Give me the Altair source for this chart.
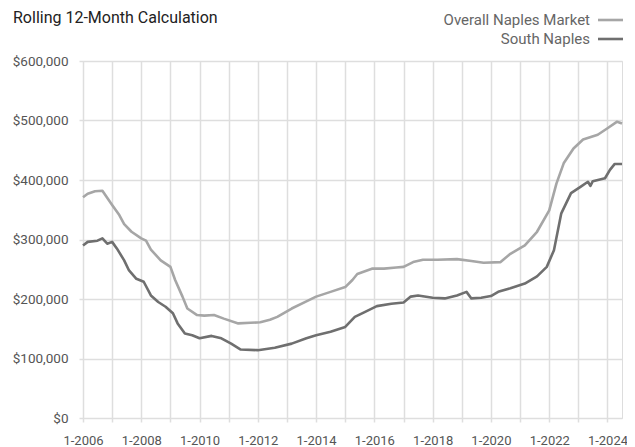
import altair as alt
import pandas as pd

FONT = "Roboto, sans-serif"

title_text = "Rolling 12-Month Calculation"
series_names = ["Overall Naples Market", "South Naples"]
series_colors = ["#a6a6a6", "#6f6f6f"]

overall_dates = [
    "2006-01", "2006-03", "2006-06", "2006-09", "2006-10", "2007-01", "2007-04", "2007-06",
    "2007-09", "2008-01", "2008-03", "2008-05", "2008-09", "2009-01", "2009-03", "2009-06",
    "2009-08", "2009-12", "2010-03", "2010-07", "2010-11", "2011-05", "2011-10", "2012-02",
    "2012-06", "2012-09", "2013-03", "2013-09", "2014-01", "2014-07", "2015-01", "2015-04",
    "2015-06", "2015-12", "2016-05", "2016-10", "2017-01", "2017-05", "2017-09", "2018-03",
    "2018-11", "2019-05", "2019-10", "2020-05", "2020-09", "2021-03", "2021-08", "2022-01",
    "2022-04", "2022-07", "2022-11", "2023-03", "2023-09", "2024-01", "2024-05", "2024-07",
]
overall_values = [
    371000, 377000, 381000, 382000, 376000, 358000, 341000, 326000,
    313000, 302000, 298000, 283000, 265000, 254000, 232000, 204000,
    184000, 173000, 172000, 173000, 167000, 159000, 160000, 161000,
    165000, 170000, 184000, 196000, 204000, 212000, 220000, 232000,
    242000, 251000, 251000, 253000, 254000, 262000, 266000, 266000,
    267000, 264000, 261000, 262000, 276000, 290000, 313000, 349000,
    394000, 428000, 453000, 468000, 476000, 487000, 498000, 495000,
]

south_dates = [
    "2006-01", "2006-03", "2006-07", "2006-09", "2006-11", "2007-01", "2007-03", "2007-06",
    "2007-08", "2007-11", "2008-02", "2008-05", "2008-08", "2008-11", "2009-02", "2009-04",
    "2009-07", "2009-10", "2010-01", "2010-06", "2010-10", "2011-02", "2011-06", "2012-01",
    "2012-08", "2013-03", "2013-09", "2014-01", "2014-07", "2015-01", "2015-05", "2015-09",
    "2016-02", "2016-08", "2017-01", "2017-04", "2017-07", "2018-01", "2018-06", "2018-11",
    "2019-03", "2019-05", "2019-09", "2020-01", "2020-04", "2020-09", "2021-03", "2021-08",
    "2021-12", "2022-03", "2022-06", "2022-10", "2023-02", "2023-05", "2023-06", "2023-07",
    "2023-12", "2024-02", "2024-04", "2024-07",
]
south_values = [
    290000, 296000, 298000, 302000, 293000, 296000, 285000, 265000,
    248000, 234000, 229000, 206000, 195000, 187000, 176000, 159000,
    142000, 139000, 134000, 138000, 134000, 125000, 115000, 114000,
    118000, 125000, 134000, 139000, 145000, 153000, 170000, 178000,
    188000, 192000, 194000, 204000, 206000, 202000, 201000, 206000,
    212000, 201000, 202000, 205000, 212000, 218000, 226000, 238000,
    254000, 282000, 344000, 378000, 389000, 397000, 390000, 398000,
    403000, 417000, 427000, 427000,
]

y_ticks = [0, 100000, 200000, 300000, 400000, 500000, 600000]
x_years = list(range(2006, 2025))

df = pd.concat([
    pd.DataFrame({"date": [d + "-01" for d in overall_dates], "value": overall_values,
                  "series": series_names[0]}),
    pd.DataFrame({"date": [d + "-01" for d in south_dates], "value": south_values,
                  "series": series_names[1]}),
], ignore_index=True)

GRID = "#dedede"

x_enc = alt.X(
    "date:T",
    scale=alt.Scale(type="utc",
                    domain=[alt.DateTime(year=2006, month=1, date=1, utc=True),
                            alt.DateTime(year=2024, month=7, date=1, utc=True)]),
    axis=alt.Axis(
        title=None,
        values=[alt.DateTime(year=y, month=1, date=1, utc=True) for y in x_years],
        labelExpr="utcFormat(datum.value, '%Y') % 2 == 0 ? '1-' + utcFormat(datum.value, '%Y') : ''",
        grid=True, gridColor=GRID, gridWidth=1.5,
        ticks=True, tickColor=GRID, tickSize=4, tickWidth=1.5,
        domain=False,
        labelFont=FONT, labelFontSize=13, labelColor="#555555", labelPadding=12,
        labelFlush=False, labelOverlap=False,
    ),
)
y_enc = alt.Y(
    "value:Q",
    scale=alt.Scale(domain=[0, 600000], nice=False),
    axis=alt.Axis(
        title=None, values=y_ticks, format="$,.0f",
        grid=True, gridColor=GRID, gridWidth=1.5,
        ticks=True, tickColor=GRID, tickSize=4, tickWidth=1.5,
        domain=False,
        labelFont=FONT, labelFontSize=13.5, labelColor="#555555", labelPadding=11,
    ),
)

lines = alt.Chart(df).mark_line(strokeWidth=2.6, strokeJoin="round").encode(
    x=x_enc,
    y=y_enc,
    color=alt.Color("series:N", scale=alt.Scale(domain=series_names, range=series_colors), legend=None),
    detail="series:N",
)

title_layer = alt.Chart(pd.DataFrame({"t": [title_text]})).mark_text(
    align="left", baseline="alphabetic", font=FONT, fontSize=16, color="#222222"
).encode(text="t:N", x=alt.value(-70), y=alt.value(-38))

legend_df = pd.DataFrame({"series": series_names})
legend_layers = []
legend_rows_y = [-41, -22]
for i, name in enumerate(series_names):
    sub = legend_df[legend_df["series"] == name]
    legend_layers.append(
        alt.Chart(sub).mark_text(align="right", baseline="middle", font=FONT, fontSize=15,
                                 color="#666666").encode(
            text="series:N", x=alt.value(507), y=alt.value(legend_rows_y[i]))
    )
    legend_layers.append(
        alt.Chart(sub).mark_rule(strokeWidth=2.6, color=series_colors[i]).encode(
            x=alt.value(515), x2=alt.value(540), y=alt.value(legend_rows_y[i]))
    )

chart = alt.layer(lines, title_layer, *legend_layers).properties(
    width=539, height=357,
    autosize=alt.AutoSizeParams(type="none"),
    padding={"left": 75, "top": 53, "right": 5, "bottom": 28},
).configure_view(stroke=GRID, strokeWidth=1.5).configure(background="white")

chart.save("out.html", embed_options={"renderer": "svg", "actions": False})
